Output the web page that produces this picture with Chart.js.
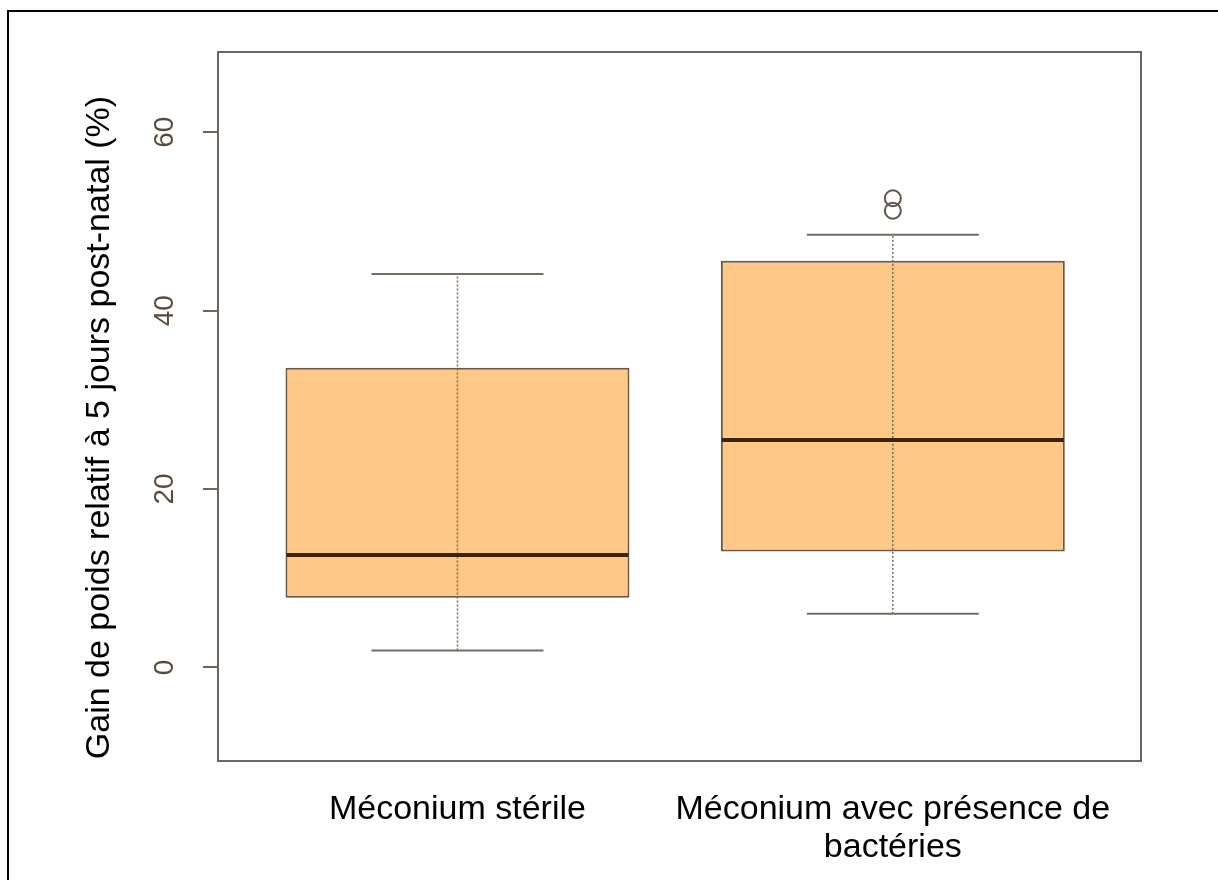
<!DOCTYPE html>
<html>
<head>
<meta charset="utf-8">
<script src="https://cdn.jsdelivr.net/npm/chart.js@4.4.1/dist/chart.umd.min.js"></script>
<style>
html, body { margin: 0; padding: 0; background: #fff; }
canvas { display: block; }
</style>
</head>
<body>
<canvas id="boxChart" width="1218" height="880"></canvas>
<script>
// groups and their summary values
const categories = ['Méconium stérile', ['Méconium avec présence de', 'bactéries']];
const positions = [1, 2];
const whiskerLow = [1.9, 6.0];
const q1 = [7.8, 13.0];
const median = [12.6, 25.5];
const q3 = [33.6, 45.6];
const whiskerHigh = [44.1, 48.5];
const outliers = [[], [51.2, 52.6]];
const yTicks = [0, 20, 40, 60];
const yTitle = 'Gain de poids relatif à 5 jours post-natal (%)';

let fontFamily = '"Liberation Sans", Arial, Helvetica, sans-serif';
let boxFill = '#fec986';
let boxBorder = '#6a5844';
let frameColor = '#70655a';
let medianColor = '#3a2410';
let whiskerColor = '#766c62';
let tickLabelColor = '#574a3c';

const boxPlugin = {
    id: 'boxPlugin',
    beforeDraw(chart) {
        const ctx = chart.ctx;
        // black outline of the figure (left and top edges only are visible)
        ctx.save();
        ctx.strokeStyle = '#000';
        ctx.lineWidth = 2;
        ctx.beginPath();
        ctx.moveTo(8, chart.height);
        ctx.lineTo(8, 11);
        ctx.lineTo(chart.width, 11);
        ctx.stroke();
        ctx.restore();
    },
    afterDatasetsDraw(chart) {
        const ctx = chart.ctx;
        const xs = chart.scales.x;
        const ys = chart.scales.y;
        const area = chart.chartArea;
        const boxes = chart.getDatasetMeta(0).data;
        const line = (x1, y1, x2, y2) => {
            ctx.beginPath();
            ctx.moveTo(x1, y1);
            ctx.lineTo(x2, y2);
            ctx.stroke();
        };
        ctx.save();
        positions.forEach((p, i) => {
            const cx = xs.getPixelForValue(p);
            const half = boxes[i].width / 2;
            const yLo = ys.getPixelForValue(whiskerLow[i]);
            const yHi = ys.getPixelForValue(whiskerHigh[i]);
            // dotted whisker
            ctx.strokeStyle = whiskerColor;
            ctx.lineWidth = 1.5;
            ctx.setLineDash([2, 2]);
            line(cx, yLo, cx, yHi);
            ctx.setLineDash([]);
            // staples
            ctx.lineWidth = 2;
            line(cx - half / 2, yLo, cx + half / 2, yLo);
            line(cx - half / 2, yHi, cx + half / 2, yHi);
            // median
            const yMed = ys.getPixelForValue(median[i]);
            ctx.strokeStyle = medianColor;
            ctx.lineWidth = 4;
            line(cx - half + 1, yMed, cx + half - 1, yMed);
        });
        // plot frame
        ctx.strokeStyle = frameColor;
        ctx.lineWidth = 2;
        ctx.strokeRect(area.left, area.top, area.right - area.left, area.bottom - area.top);

        // y tick labels, rotated as in R
        ctx.fillStyle = tickLabelColor;
        ctx.font = '28px ' + fontFamily;
        ctx.textAlign = 'center';
        ctx.textBaseline = 'middle';
        yTicks.forEach(v => {
            ctx.save();
            ctx.translate(165, ys.getPixelForValue(v));
            ctx.rotate(-Math.PI / 2);
            ctx.fillText(String(v), 0, 0);
            ctx.restore();
        });

        // y axis title
        ctx.fillStyle = '#000';
        ctx.font = '34px ' + fontFamily;
        ctx.textBaseline = 'alphabetic';
        ctx.save();
        ctx.translate(109, (area.top + area.bottom) / 2 + 21);
        ctx.rotate(-Math.PI / 2);
        ctx.fillText(yTitle, 0, 0);
        ctx.restore();
        ctx.restore();
    }
};

document.addEventListener('DOMContentLoaded', function () {
    const ctx = document.getElementById('boxChart').getContext('2d');
    new Chart(ctx, {
        type: 'bar',
        data: {
            datasets: [
                {
                    label: 'Boîtes',
                    data: positions.map((p, i) => ({ x: p, y: [q1[i], q3[i]] })),
                    backgroundColor: boxFill,
                    borderColor: boxBorder,
                    borderWidth: 2,
                    borderSkipped: false,
                    barPercentage: 0.79,
                    categoryPercentage: 1
                },
                {
                    type: 'scatter',
                    label: 'Valeurs extrêmes',
                    data: outliers.flatMap((vals, i) => vals.map(v => ({ x: positions[i], y: v }))),
                    pointStyle: 'circle',
                    pointRadius: 8,
                    backgroundColor: 'rgba(0,0,0,0)',
                    borderColor: '#5e5347',
                    borderWidth: 2
                }
            ]
        },
        options: {
            responsive: false,
            animation: false,
            layout: { padding: { left: 0, top: 52, right: 77, bottom: 0 } },
            plugins: {
                legend: { display: false },
                tooltip: { enabled: false }
            },
            scales: {
                x: {
                    type: 'linear',
                    offset: false,
                    min: 0.45,
                    max: 2.57,
                    afterBuildTicks: (scale) => { scale.ticks = positions.map(v => ({ value: v })); },
                    afterFit: (scale) => { scale.height = 119; },
                    grid: { display: false },
                    border: { display: false },
                    ticks: {
                        autoSkip: false,
                        maxRotation: 0,
                        padding: 22,
                        color: '#000',
                        font: { family: fontFamily, size: 34, lineHeight: 1.12 },
                        callback: (value, index) => categories[index]
                    }
                },
                y: {
                    min: -10.5,
                    max: 69,
                    afterBuildTicks: (scale) => { scale.ticks = yTicks.map(v => ({ value: v })); },
                    afterFit: (scale) => { scale.width = 218; },
                    border: { display: false },
                    grid: {
                        drawOnChartArea: false,
                        drawTicks: true,
                        tickLength: 15,
                        color: frameColor,
                        lineWidth: 2
                    },
                    ticks: { display: false }
                }
            }
        },
        plugins: [boxPlugin]
    });
});
</script>
</body>
</html>
